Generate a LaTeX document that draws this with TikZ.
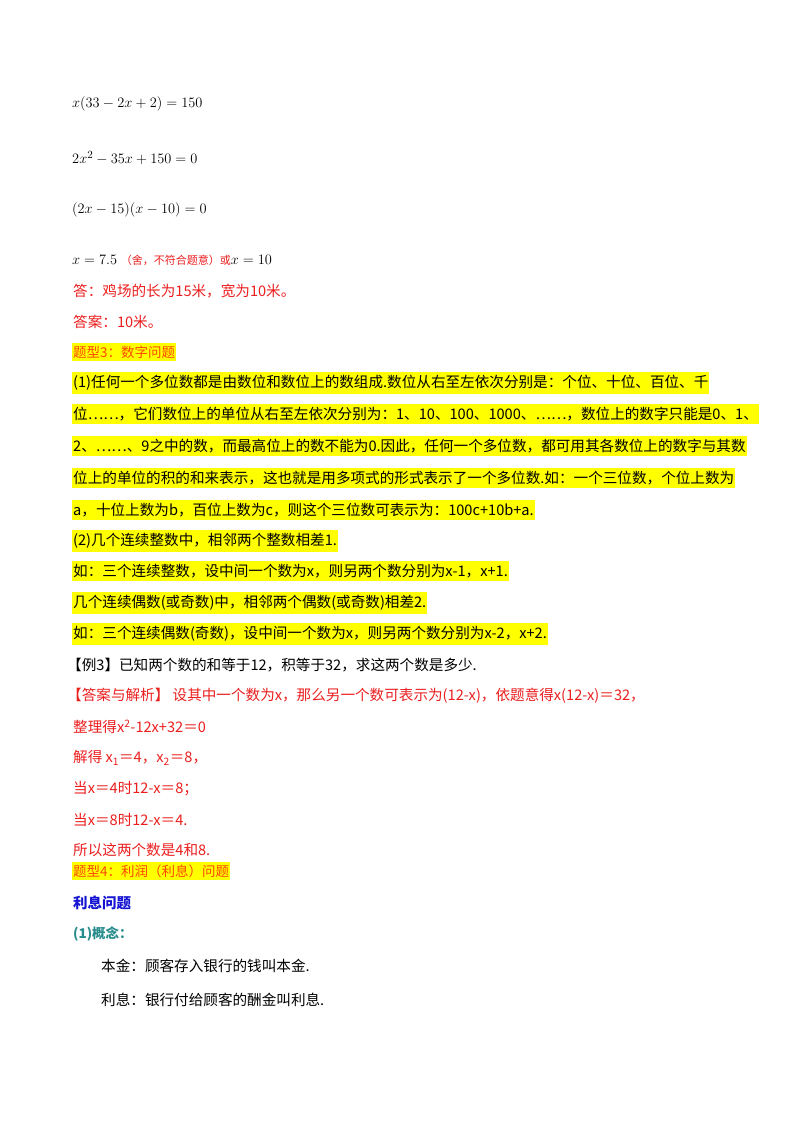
\documentclass[tikz,border=0pt]{standalone}
\usepackage{fontspec}
\setmainfont{Liberation Serif}
\newfontfamily\cjk{Noto Sans CJK SC}
\usepackage{amsmath}
\definecolor{ansred}{RGB}{235,30,30}
\definecolor{headorange}{RGB}{255,70,0}
\definecolor{hilite}{RGB}{255,255,0}
\definecolor{tealc}{RGB}{40,140,140}
\definecolor{deepblue}{RGB}{20,20,210}
\begin{document}
\begin{tikzpicture}[x=1pt,y=-1pt,
  txtline/.style={anchor=west, inner xsep=1pt, inner ysep=3pt, font=\fontsize{14.6}{15}\cjk},
  hiline/.style={txtline, fill=hilite},
  eq/.style={anchor=west, inner sep=0pt, font=\fontsize{15}{16}\selectfont}]
\useasboundingbox (0,0) rectangle (800,1132);
% equations
\node[eq] (eqa) at (72,104) {$x(33-2x+2)=150$};
\node[eq] (eqb) at (72,158) {$2x^2-35x+150=0$};
\node[eq] (eqc) at (72,210) {$(2x-15)(x-10)=0$};
\node[eq] (eqd) at (72,260) {$x=7.5$ {\cjk\fontsize{11}{12}\selectfont\color{ansred}（舍，不符合题意）或}$x=10$};
\node[txtline, text=ansred] (ans1) at (72,291) {答：鸡场的长为15米，宽为10米。};
\node[txtline, text=ansred] (ans2) at (72,322) {答案：10米。};
% type 3
\node[hiline, text=headorange, font=\fontsize{13.5}{14}\cjk] (type3) at (72,352) {题型3：数字问题};
\node[hiline] (p1) at (72,383) {(1)任何一个多位数都是由数位和数位上的数组成.数位从右至左依次分别是：个位、十位、百位、千};
\node[hiline] (p2) at (72,414) {位……，它们数位上的单位从右至左依次分别为：1、10、100、1000、……，数位上的数字只能是0、1、};
\node[hiline] (p3) at (72,446) {2、……、9之中的数，而最高位上的数不能为0.因此，任何一个多位数，都可用其各数位上的数字与其数};
\node[hiline] (p4) at (72,478) {位上的单位的积的和来表示，这也就是用多项式的形式表示了一个多位数.如：一个三位数，个位上数为};
\node[hiline] (p5) at (72,510) {a，十位上数为b，百位上数为c，则这个三位数可表示为：100c+10b+a.};
\node[hiline] (p6) at (72,541) {(2)几个连续整数中，相邻两个整数相差1.};
\node[hiline] (p7) at (72,571) {如：三个连续整数，设中间一个数为x，则另两个数分别为x-1，x+1.};
\node[hiline] (p8) at (72,603) {几个连续偶数(或奇数)中，相邻两个偶数(或奇数)相差2.};
\node[hiline] (p9) at (72,634) {如：三个连续偶数(奇数)，设中间一个数为x，则另两个数分别为x-2，x+2.};
% example 3
\node[txtline] (ex3) at (66,665) {【例3】已知两个数的和等于12，积等于32，求这两个数是多少.};
\node[txtline, text=ansred] (sol1) at (66,696) {【答案与解析】 设其中一个数为x，那么另一个数可表示为(12-x)，依题意得x(12-x)＝32，};
\node[txtline, text=ansred] (sol2) at (72,727) {整理得x\textsuperscript{2}-12x+32＝0};
\node[txtline, text=ansred] (sol3) at (72,758) {解得 x\textsubscript{1}＝4，x\textsubscript{2}＝8，};
\node[txtline, text=ansred] (sol4) at (72,789) {当x＝4时12-x＝8；};
\node[txtline, text=ansred] (sol5) at (72,820) {当x＝8时12-x＝4.};
\node[txtline, text=ansred] (sol6) at (72,850) {所以这两个数是4和8.};
% type 4
\node[hiline, text=headorange, font=\fontsize{13.5}{14}\cjk] (type4) at (72,871) {题型4：利润（利息）问题};
\node[txtline, text=deepblue, font=\fontsize{14.5}{15}\cjk\bfseries] (interest) at (72,903) {利息问题};
\node[txtline, text=tealc, font=\fontsize{13.5}{14}\cjk\bfseries] (concept) at (72,934) {(1)概念：};
\node[txtline] (principal) at (100,966) {本金：顾客存入银行的钱叫本金.};
\node[txtline] (rate) at (100,1000) {利息：银行付给顾客的酬金叫利息.};
\end{tikzpicture}
\end{document}
